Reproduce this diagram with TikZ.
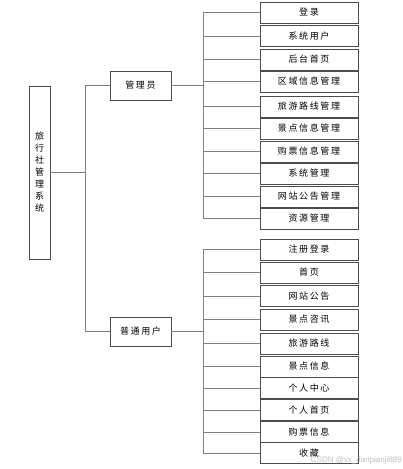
\documentclass[tikz,border=0pt]{standalone}
\usepackage{fontspec}
\setmainfont{Liberation Sans}
\newfontfamily\cjk[LetterSpace=18]{Noto Sans CJK SC}
\newfontfamily\cjkplain{Noto Sans CJK SC}
\begin{document}
\begin{tikzpicture}[x=1pt,y=-1pt,
  box/.style={draw=black!70, line width=0.9pt, fill=white, inner sep=0pt, font=\cjk\fontsize{9}{10}\selectfont},
  leaf/.style={box, minimum width=98pt, minimum height=21pt},
  mid/.style={box, minimum width=61pt, minimum height=29pt},
  conn/.style={draw=black!50, line width=0.9pt}]
\useasboundingbox (0,0) rectangle (403,469);
\node[box, minimum width=21pt, minimum height=173pt, align=center,
  font=\cjkplain\fontsize{9}{12}\selectfont] (root) at (39.5,172.5)
  {旅\\行\\社\\管\\理\\系\\统};
\node[mid] (admin) at (140.5,85.5) {管理员};
\node[mid] (user) at (140.5,331.5) {普通用户};
\coordinate (rb) at (85,0);
\coordinate (ab) at (203,0);
\foreach \i/\y/\t in {1/12.5/登录,2/36/系统用户,3/59.5/后台首页,4/81.5/区域信息管理,
  5/106.5/旅游路线管理,6/128.5/景点信息管理,7/151.5/购票信息管理,8/173.5/系统管理,
  9/196.5/网站公告管理,10/218.5/资源管理}{
  \node[leaf] (a\i) at (309,\y) {\t};
  \draw[conn] (admin.east) -- (admin.east -| ab) |- (a\i.west);
}
\foreach \i/\y/\t in {1/249.5/注册登录,2/272.5/首页,3/296/网站公告,4/319.5/景点咨讯,
  5/343.5/旅游路线,6/366.5/景点信息,7/388/个人中心,8/410/个人首页,
  9/432/购票信息,10/453/收藏}{
  \node[leaf] (u\i) at (309,\y) {\t};
  \draw[conn] (user.east) -- (user.east -| ab) |- (u\i.west);
}
\draw[conn] (root.east) -- (root.east -| rb) |- (admin.west);
\draw[conn] (root.east) -- (root.east -| rb) |- (user.west);
\node[anchor=east, text=black!25, font=\fontsize{8}{9}\selectfont, inner sep=0pt] (wm) at (402,460) {CSDN @vx\_danpianji889};
\end{tikzpicture}
\end{document}
